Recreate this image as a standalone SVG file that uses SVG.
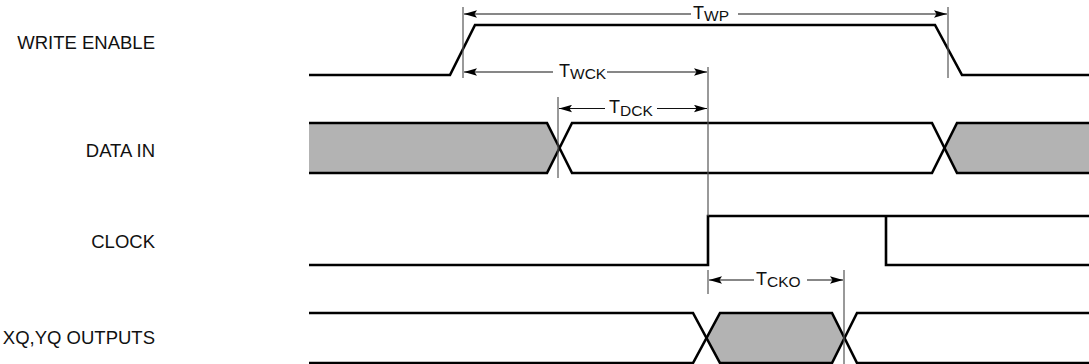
<svg xmlns="http://www.w3.org/2000/svg" width="1089" height="364" viewBox="0 0 1089 364">
<style>
.lbl{font-family:"Liberation Sans",Arial,sans-serif;font-size:18.5px;fill:#111;text-anchor:end}
.tm{font-family:"Liberation Sans",Arial,sans-serif;font-size:18px;fill:#111}
.sub{font-size:15.5px}
.sig{fill:none;stroke:#000;stroke-width:2.6;stroke-linejoin:miter}
.bus{fill:#b3b3b3;stroke:none}
.ref{stroke:#555;stroke-width:1.2;fill:none}
.dl{stroke:#111;stroke-width:1.2;fill:none}
</style>
<defs>
<marker id="ahR" viewBox="0 0 13 8" refX="13" refY="4" markerWidth="13" markerHeight="8" markerUnits="userSpaceOnUse" orient="auto">
<path d="M0,0.3 L13,4 L0,7.7 L2.5,4 Z" fill="#000"/>
</marker>
<marker id="ahL" viewBox="0 0 13 8" refX="0" refY="4" markerWidth="13" markerHeight="8" markerUnits="userSpaceOnUse" orient="auto">
<path d="M13,0.3 L0,4 L13,7.7 L10.5,4 Z" fill="#000"/>
</marker>
</defs>
<g id="labels">
<text class="lbl" x="155" y="48.5">WRITE ENABLE</text>
<text class="lbl" x="155" y="157">DATA IN</text>
<text class="lbl" x="155" y="248">CLOCK</text>
<text class="lbl" x="155" y="344">XQ,YQ OUTPUTS</text>
</g>
<g id="write-enable">
<polyline class="sig" points="309,75 450,75 475,25 935,25 962,75 1089,75"/>
</g>
<g id="data-in">
<polygon class="bus" points="309,123 547,123 559.5,148 547,173 309,173"/>
<polygon class="bus" points="1089,123 957,123 944.5,148 957,173 1089,173"/>
<polyline class="sig" points="309,123 547,123 572,173 932,173 957,123 1089,123"/>
<polyline class="sig" points="309,173 547,173 572,123 932,123 957,173 1089,173"/>
</g>
<g id="clock">
<polyline class="sig" points="309,265 708,265 708,216 1089,216"/>
<polyline class="sig" points="886,216 886,265 1089,265"/>
</g>
<g id="outputs">
<polygon class="bus" points="720,313 832,313 844.5,338 832,363 720,363 706.5,338"/>
<polyline class="sig" points="309,313 693,313 720,363 832,363 857,313 1089,313"/>
<polyline class="sig" points="309,363 693,363 720,313 832,313 857,363 1089,363"/>
</g>
<g id="connectors">
<line class="ref" x1="463" y1="7" x2="463" y2="78"/>
<line class="ref" x1="948" y1="7" x2="948" y2="78"/>
<line class="ref" x1="708" y1="67" x2="708" y2="216"/>
<line class="ref" x1="558" y1="97" x2="558" y2="178"/>
<line class="ref" x1="708" y1="270" x2="708" y2="294"/>
<line class="ref" x1="844" y1="270" x2="844" y2="364"/>
<line class="dl" x1="464" y1="14" x2="691" y2="14" marker-start="url(#ahL)"/>
<line class="dl" x1="738" y1="14" x2="947" y2="14" marker-end="url(#ahR)"/>
<line class="dl" x1="464" y1="72" x2="553" y2="72" marker-start="url(#ahL)"/>
<line class="dl" x1="607" y1="72" x2="707" y2="72" marker-end="url(#ahR)"/>
<line class="dl" x1="559" y1="108.5" x2="605" y2="108.5" marker-start="url(#ahL)"/>
<line class="dl" x1="657" y1="108.5" x2="707" y2="108.5" marker-end="url(#ahR)"/>
<line class="dl" x1="709" y1="280" x2="754" y2="280" marker-start="url(#ahL)"/>
<line class="dl" x1="807" y1="280" x2="843" y2="280" marker-end="url(#ahR)"/>
</g>
<g id="timing-labels">
<text class="tm" x="693" y="18.5">T<tspan class="sub" dy="2.5">WP</tspan></text>
<text class="tm" x="559" y="76.5">T<tspan class="sub" dy="2.5">WCK</tspan></text>
<text class="tm" x="609" y="113">T<tspan class="sub" dy="2.5">DCK</tspan></text>
<text class="tm" x="756" y="284.5">T<tspan class="sub" dy="2.5">CKO</tspan></text>
</g>
</svg>
